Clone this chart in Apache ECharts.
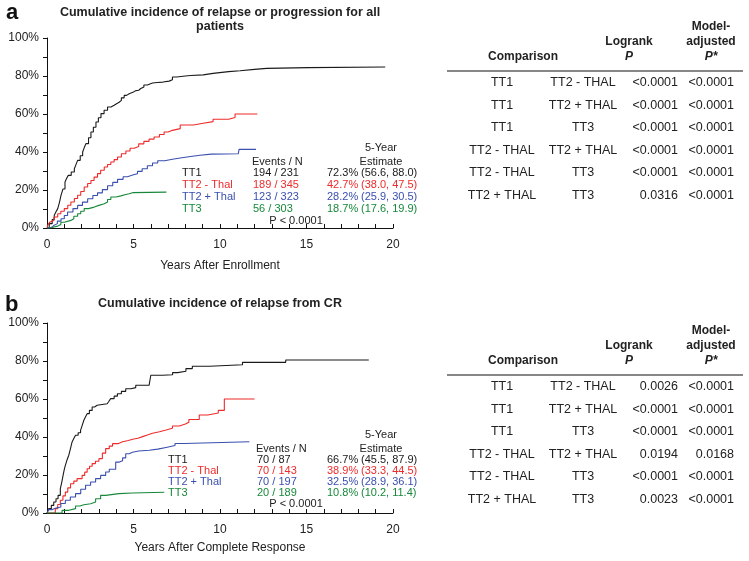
<!DOCTYPE html>
<html>
<head>
<meta charset="utf-8">
<script src="https://cdn.jsdelivr.net/npm/echarts/dist/echarts.min.js"></script>
<style>
  body { margin: 0; background: #fff; }
  #chart { width: 749px; height: 561px; }
</style>
</head>
<body>
<div id="chart"></div>
<script>
// ---- curves: [years, cumulative incidence %] ----
// panel a: relapse or progression, all patients
var aTT1 = [[0,0],[0.13,2.3],[0.3,4.5],[0.42,6.7],[0.52,8.5],[0.62,10.2],[0.72,13.5],[0.81,17.2],[0.92,20.5],[1.04,24.2],[1.13,26],[1.23,27.7],[1.4,29.5],[1.58,31.2],[1.68,33.5],[1.77,35.6],[1.92,38],[2.06,40],[2.15,42.2],[2.25,44.4],[2.4,47.5],[2.54,50.5],[2.68,53],[2.83,55.8],[2.97,58],[3.12,60.2],[3.3,62],[3.5,63.7],[3.7,64.6],[3.88,65.4],[4.02,66.2],[4.17,67.2],[4.3,68.5],[4.46,69.8],[4.6,70.7],[4.75,71.6],[5.0,72.3],[5.13,72.5],[5.3,73.4],[5.42,74.2],[5.6,75.3],[5.8,76.3],[6.1,76.6],[6.38,76.8],[6.7,77.3],[7.06,78],[7.25,79.5],[7.5,80],[8.0,80.3],[8.3,80.6],[9.03,81.4],[9.6,82.3],[10.5,82.8],[11.16,83.5],[12.0,84],[12.7,84.4],[15.1,84.7],[19.55,84.7]];
var aTT2noThal = [[0,0],[0.04,1.4],[0.15,3],[0.23,4],[0.4,5.8],[0.62,7.5],[0.8,8.8],[1.0,10.2],[1.2,12],[1.38,13.7],[1.58,15.5],[1.77,17.2],[1.95,19.2],[2.15,21.6],[2.35,23.4],[2.54,25],[2.72,26.8],[2.92,28.6],[3.1,30.4],[3.31,32.1],[3.5,33.4],[3.69,34.7],[3.88,36],[4.08,37.4],[4.3,39.1],[4.56,40.5],[4.8,42],[5.04,42.9],[5.3,44.3],[5.6,45.6],[5.9,46.8],[6.19,47.9],[6.5,49.2],[6.77,50.5],[7.0,51.4],[7.25,52.3],[7.7,54.2],[8.46,55.1],[9.03,56],[9.6,57.2],[10.5,58.2],[10.87,60],[12.16,60]];
var aTT2Thal = [[0,0],[0.13,0.5],[0.3,1.5],[0.42,2.3],[0.6,3.6],[0.81,4.9],[1.0,6.6],[1.19,8.4],[1.5,10.2],[1.77,11.9],[2.05,13.6],[2.35,15.4],[2.65,17.1],[2.92,18.5],[3.2,20.2],[3.5,22.2],[3.8,24],[4.08,25.6],[4.4,27],[4.65,28],[5.0,28.6],[5.23,29.8],[5.5,31.2],[5.8,32.8],[6.1,34.2],[6.4,35.4],[6.8,36.2],[7.25,36.8],[7.7,37.6],[8.3,38.3],[8.84,38.9],[9.5,39.1],[11.06,39.3],[11.1,41.4],[12.08,41.4]];
var aTT3 = [[0,0],[0.23,0.5],[0.4,1],[0.62,1.8],[0.8,3],[1.0,4],[1.38,4.9],[1.55,6.2],[1.77,7.5],[1.95,8.8],[2.15,10.2],[2.4,11],[2.73,11.9],[3.0,12.8],[3.31,13.7],[3.5,15],[3.69,16.3],[4.0,16.9],[4.27,17.5],[4.5,18],[4.75,18.6],[4.95,18.9],[6.9,18.9]];

// panel b: relapse from CR
var bTT1 = [[0,0],[0.1,2.3],[0.25,4],[0.39,5.8],[0.52,7.5],[0.64,9.3],[0.77,12.8],[0.85,16],[0.93,19.8],[1.0,23],[1.06,25.1],[1.16,28],[1.26,30.4],[1.36,34],[1.45,37.4],[1.55,39.2],[1.65,40.9],[1.8,42.2],[1.94,43.5],[2.03,46],[2.13,48.8],[2.22,50.5],[2.32,52.3],[2.45,54],[2.61,55.8],[2.75,56.7],[2.9,57.5],[3.48,57.5],[3.58,58.8],[3.68,60.2],[3.88,61.5],[4.07,62.8],[4.3,64],[4.55,65.4],[4.85,66],[5.13,67.2],[5.9,68],[6.0,72.5],[6.67,72.8],[7.26,73.9],[7.55,74.6],[8.03,76],[8.4,77.2],[9.4,78],[11.3,79.3],[13.8,80.5],[18.6,80.5]];
var bTT2noThal = [[0,0],[0.29,0],[0.48,2.3],[0.62,4.5],[0.77,6.7],[0.92,9],[1.06,11],[1.2,13.2],[1.36,15.4],[1.55,16.8],[1.74,18.1],[2.03,19.8],[2.18,21.5],[2.32,23.3],[2.46,24.6],[2.61,26],[2.8,27.2],[3.0,28.6],[3.2,31.5],[3.39,33.9],[3.6,35.2],[3.79,36.5],[4.1,37.5],[4.37,38.2],[4.7,38.8],[4.95,39.3],[5.25,40.2],[5.53,41],[5.8,42],[6.1,42.8],[6.5,43.7],[6.88,44.6],[7.25,45.8],[7.65,46.8],[8.0,47.8],[8.2,49.2],[8.8,51.6],[9.3,52.6],[9.9,54],[10.25,60],[12.0,60]];
var bTT2Thal = [[0,0],[0.1,1.8],[0.3,2.5],[0.48,3.2],[0.8,5],[1.06,6.7],[1.35,8.4],[1.65,10.2],[1.95,12.5],[2.23,14.6],[2.52,16.3],[2.81,18.1],[3.1,19.8],[3.39,21.6],[3.6,23],[3.97,26.8],[4.18,27.5],[4.37,29],[4.55,31.2],[4.75,32],[4.94,32.6],[5.3,33],[5.91,33.6],[6.4,34.5],[6.88,35.5],[7.4,36.6],[7.94,37.5],[11.7,37.5]];
var bTT3 = [[0,0],[0.58,0],[0.87,1.4],[1.26,2.3],[1.65,3.7],[1.9,4.3],[2.13,4.9],[2.52,5.8],[2.81,7.5],[3.1,9.3],[3.39,10.2],[4.16,10.5],[4.94,10.9],[6.78,10.9]];

// ---- legend block texts ----
var groupNames = ['TT1', 'TT2 - Thal', 'TT2 + Thal', 'TT3'];
var groupColors = ['#1a1a1a', '#ee2b2b', '#3a4fae', '#17883a'];
var eventsA = ['194 / 231', '189 / 345', '123 / 323', '56 / 303'];
var estA = ['72.3%', '42.7%', '28.2%', '18.7%'];
var ciA = ['(56.6, 88.0)', '(38.0, 47.5)', '(25.9, 30.5)', '(17.6, 19.9)'];
var eventsB = ['70 / 87', '70 / 143', '70 / 197', '20 / 189'];
var estB = ['66.7%', '38.9%', '32.5%', '10.8%'];
var ciB = ['(45.5, 87.9)', '(33.3, 44.5)', '(28.9, 36.1)', '(10.2, 11.4)'];

// ---- comparison tables ----
var cmpLeft = ['TT1', 'TT1', 'TT1', 'TT2 - THAL', 'TT2 - THAL', 'TT2 + THAL'];
var cmpRight = ['TT2 - THAL', 'TT2 + THAL', 'TT3', 'TT2 + THAL', 'TT3', 'TT3'];
var logrankA = ['<0.0001', '<0.0001', '<0.0001', '<0.0001', '<0.0001', '0.0316'];
var adjustedA = ['<0.0001', '<0.0001', '<0.0001', '<0.0001', '<0.0001', '<0.0001'];
var logrankB = ['0.0026', '<0.0001', '<0.0001', '0.0194', '<0.0001', '0.0023'];
var adjustedB = ['<0.0001', '<0.0001', '<0.0001', '0.0168', '<0.0001', '<0.0001'];

var FONT = '"Liberation Sans", Arial, Helvetica, sans-serif';

function txt(x, y, s, color, size, weight, align, style) {
    return {
        type: 'text', x: x, y: y, silent: true,
        style: {
            text: s, fill: color || '#222',
            font: (style || 'normal') + ' ' + (weight || 'normal') + ' ' + (size || 12) + 'px ' + FONT,
            textAlign: align || 'left', textVerticalAlign: 'middle'
        }
    };
}

function xAxisOpt(gridIndex, name, gap) {
    return {
        type: 'value', gridIndex: gridIndex, min: 0, max: 20, interval: 1,
        name: name, nameLocation: 'middle', nameGap: gap,
        nameTextStyle: { color: '#222', fontSize: 12, fontFamily: FONT },
        axisLine: { lineStyle: { color: '#111', width: 1 } },
        axisTick: { inside: true, length: 4, lineStyle: { color: '#111' } },
        axisLabel: {
            margin: 11, color: '#222', fontSize: 12, fontFamily: FONT,
            formatter: function (v) { return v % 5 === 0 ? String(v) : ''; }
        },
        splitLine: { show: false }
    };
}

function yAxisOpt(gridIndex) {
    return {
        type: 'value', gridIndex: gridIndex, min: 0, max: 100, interval: 10,
        axisLine: { show: true, lineStyle: { color: '#111', width: 1 } },
        axisTick: { show: true, length: 4, lineStyle: { color: '#111' } },
        axisLabel: {
            margin: 8, color: '#222', fontSize: 12, fontFamily: FONT,
            formatter: function (v) { return v % 20 === 0 ? v + '%' : ''; }
        },
        splitLine: { show: false }
    };
}

function curve(data, idx, color) {
    return {
        type: 'line', xAxisIndex: idx, yAxisIndex: idx, data: data,
        step: 'end', showSymbol: false, silent: true,
        lineStyle: { color: color, width: 1.1 }
    };
}

// legend block beside curves
function legendBlock(rowY, xName, xEv, events, est, ci, headY, pY) {
    var g = [];
    g.push(txt(xEv - 1, headY + 14, 'Events / N', '#222', 11));
    g.push(txt(381, headY, '5-Year', '#222', 11, 'normal', 'center'));
    g.push(txt(381, headY + 14, 'Estimate', '#222', 11, 'normal', 'center'));
    for (var i = 0; i < groupNames.length; i++) {
        var y = rowY[i];
        g.push(txt(xName, y, groupNames[i], groupColors[i], 11));
        g.push(txt(xEv, y, events[i], groupColors[i], 11));
        g.push(txt(327, y, est[i], groupColors[i], 11));
        g.push(txt(361, y, ci[i], groupColors[i], 11));
    }
    g.push(txt(296, pY, 'P < 0.0001', '#222', 11, 'normal', 'center'));
    return g;
}

// comparison table
function tableBlock(top, logrank, adjusted) {
    var g = [];
    var hy = top; // baseline row of header (Comparison / P / P*)
    g.push(txt(711, hy - 30, 'Model-', '#222', 12, 'bold', 'center'));
    g.push(txt(711, hy - 15, 'adjusted', '#222', 12, 'bold', 'center'));
    g.push(txt(629, hy - 15, 'Logrank', '#222', 12, 'bold', 'center'));
    g.push(txt(523, hy, 'Comparison', '#222', 12, 'bold', 'center'));
    g.push(txt(629, hy, 'P', '#222', 12, 'bold', 'center', 'italic'));
    g.push(txt(711, hy, 'P*', '#222', 12, 'bold', 'center', 'italic'));
    g.push({
        type: 'line', silent: true,
        shape: { x1: 447, y1: hy + 14, x2: 743, y2: hy + 14 },
        style: { stroke: '#111', lineWidth: 1.2 }
    });
    for (var i = 0; i < cmpLeft.length; i++) {
        var y = hy + 26 + i * 22.5;
        g.push(txt(502, y, cmpLeft[i], '#222', 12.5, 'normal', 'center'));
        g.push(txt(583, y, cmpRight[i], '#222', 12.5, 'normal', 'center'));
        g.push(txt(678, y, logrank[i], '#222', 12.5, 'normal', 'right'));
        g.push(txt(734, y, adjusted[i], '#222', 12.5, 'normal', 'right'));
    }
    return g;
}

var chart = echarts.init(document.getElementById('chart'), null, { renderer: 'canvas' });

var graphics = [];
graphics.push(txt(6, 13, 'a', '#111', 22, 'bold'));
graphics.push(txt(220, 13, 'Cumulative incidence of relapse or progression for all', '#222', 12.5, 'bold', 'center'));
graphics.push(txt(220, 27, 'patients', '#222', 12.5, 'bold', 'center'));
graphics.push(txt(5, 305, 'b', '#111', 22, 'bold'));
graphics.push(txt(220, 304, 'Cumulative incidence of relapse from CR', '#222', 12.5, 'bold', 'center'));
graphics = graphics.concat(legendBlock([173, 185, 197, 209], 182, 253, eventsA, estA, ciA, 148, 221));
graphics = graphics.concat(legendBlock([460, 471, 482, 493], 168, 257, eventsB, estB, ciB, 435, 504));
graphics = graphics.concat(tableBlock(57, logrankA, adjustedA));
graphics = graphics.concat(tableBlock(361, logrankB, adjustedB));

chart.setOption({
    animation: false,
    backgroundColor: '#fff',
    grid: [
        { left: 47, top: 38, width: 346, height: 190 },
        { left: 47, top: 323, width: 346, height: 190 }
    ],
    xAxis: [
        xAxisOpt(0, 'Years After Enrollment', 32),
        xAxisOpt(1, 'Years After Complete Response', 29)
    ],
    yAxis: [yAxisOpt(0), yAxisOpt(1)],
    series: [
        curve(aTT1, 0, groupColors[0]),
        curve(aTT2noThal, 0, groupColors[1]),
        curve(aTT2Thal, 0, groupColors[2]),
        curve(aTT3, 0, groupColors[3]),
        curve(bTT1, 1, groupColors[0]),
        curve(bTT2noThal, 1, groupColors[1]),
        curve(bTT2Thal, 1, groupColors[2]),
        curve(bTT3, 1, groupColors[3])
    ],
    graphic: graphics
});
</script>
</body>
</html>
